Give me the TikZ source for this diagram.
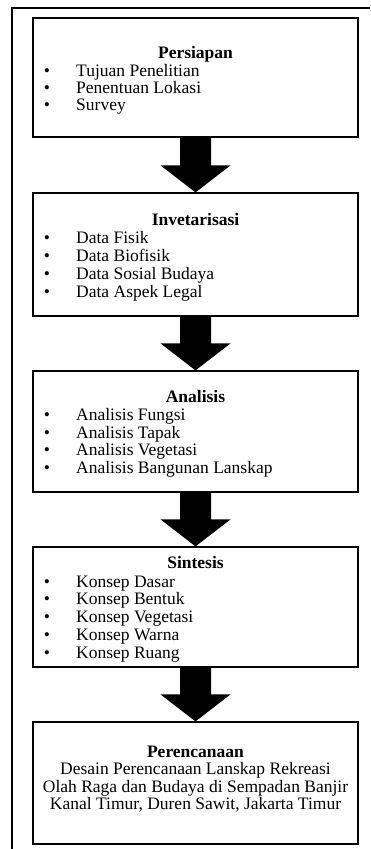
\documentclass[tikz,border=0pt]{standalone}
\usepackage{fontspec}
\setmainfont{Liberation Serif}
\usetikzlibrary{calc}
\begin{document}
\begin{tikzpicture}[x=1pt,y=1pt,
  box/.style={draw=black, line width=1.2pt, minimum width=325pt, inner sep=0pt},
  ttl/.style={anchor=base, font=\fontsize{17.5}{18}\selectfont\bfseries, inner sep=0pt},
  itm/.style={anchor=base west, font=\fontsize{17.5}{18}\selectfont, inner sep=0pt},
  bul/.style={anchor=base, font=\fontsize{17.5}{18}\selectfont, inner sep=0pt},
  ctr/.style={anchor=base, font=\fontsize{17.5}{18}\selectfont, inner sep=0pt},
  frameline/.style={line width=2pt},
  blockarrow/.style={fill=black},
]
\useasboundingbox (0,0) rectangle (370,-849);
% outer frame (top and left)
\coordinate (fbl) at (12,-849);
\coordinate (ftl) at (12,-8);
\coordinate (ftr) at (370,-8);
\draw[frameline] (fbl) -- (ftl) -- (ftr);

% boxes
\node[box, minimum height=119pt] (b1) at (195.5,-77.5) {};
\node[box, minimum height=123pt] (b2) at (195.5,-254.5) {};
\node[box, minimum height=121pt] (b3) at (195.5,-431.5) {};
\node[box, minimum height=120pt] (b4) at (195.5,-607) {};
\node[box, minimum height=122pt] (b5) at (195.5,-783) {};

% box 1
\node[ttl] (t1) at (195.5,-58) {Persiapan};
\node[bul] (b1u1) at (47,-76) {•};
\node[itm] (b1i1) at (76,-76) {Tujuan Penelitian};
\node[bul] (b1u2) at (47,-93) {•};
\node[itm] (b1i2) at (76,-93) {Penentuan Lokasi};
\node[bul] (b1u3) at (47,-110) {•};
\node[itm] (b1i3) at (76,-110) {Survey};

% box 2
\node[ttl] (t2) at (195.5,-225) {Invetarisasi};
\node[bul] (b2u1) at (47,-243) {•};
\node[itm] (b2i1) at (76,-243) {Data Fisik};
\node[bul] (b2u2) at (47,-261) {•};
\node[itm] (b2i2) at (76,-261) {Data Biofisik};
\node[bul] (b2u3) at (47,-279) {•};
\node[itm] (b2i3) at (76,-279) {Data Sosial Budaya};
\node[bul] (b2u4) at (47,-297) {•};
\node[itm] (b2i4) at (76,-297) {Data Aspek Legal};

% box 3
\node[ttl] (t3) at (195.5,-402) {Analisis};
\node[bul] (b3u1) at (47,-420) {•};
\node[itm] (b3i1) at (76,-420) {Analisis Fungsi};
\node[bul] (b3u2) at (47,-438) {•};
\node[itm] (b3i2) at (76,-438) {Analisis Tapak};
\node[bul] (b3u3) at (47,-455) {•};
\node[itm] (b3i3) at (76,-455) {Analisis Vegetasi};
\node[bul] (b3u4) at (47,-473) {•};
\node[itm] (b3i4) at (76,-473) {Analisis Bangunan Lanskap};

% box 4
\node[ttl] (t4) at (195.5,-568) {Sintesis};
\node[bul] (b4u1) at (47,-587) {•};
\node[itm] (b4i1) at (76,-587) {Konsep Dasar};
\node[bul] (b4u2) at (47,-604) {•};
\node[itm] (b4i2) at (76,-604) {Konsep Bentuk};
\node[bul] (b4u3) at (47,-622) {•};
\node[itm] (b4i3) at (76,-622) {Konsep Vegetasi};
\node[bul] (b4u4) at (47,-640) {•};
\node[itm] (b4i4) at (76,-640) {Konsep Warna};
\node[bul] (b4u5) at (47,-658) {•};
\node[itm] (b4i5) at (76,-658) {Konsep Ruang};

% box 5
\node[ttl] (t5) at (195.5,-757) {Perencanaan};
\node[ctr] (b5l1) at (195.5,-774) {Desain Perencanaan Lanskap Rekreasi};
\node[ctr] (b5l2) at (195.5,-792) {Olah Raga dan Budaya di Sempadan Banjir};
\node[ctr] (b5l3) at (195.5,-809) {Kanal Timur, Duren Sawit, Jakarta Timur};

% block arrows
\foreach \a/\b in {b1/b2, b2/b3, b3/b4, b4/b5}{
  \fill[blockarrow] let \p1=(\a.south), \p2=(\b.north) in
    (\x1-15.5pt,\y1) -- (\x1-15.5pt,\y2+27pt) -- (\x1-35pt,\y2+27pt) -- (\x2,\y2)
    -- (\x1+35pt,\y2+27pt) -- (\x1+15.5pt,\y2+27pt) -- (\x1+15.5pt,\y1) -- cycle;
}
\end{tikzpicture}
\end{document}
